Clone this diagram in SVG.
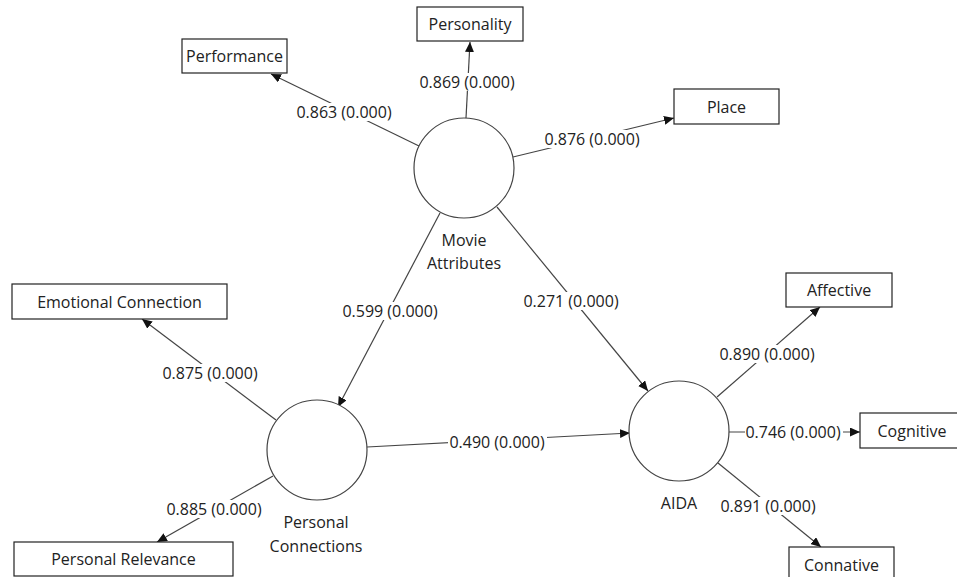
<svg xmlns="http://www.w3.org/2000/svg" width="957" height="577" viewBox="0 0 957 577">
<defs>
<style>
text{font-family:"Open Sans","Noto Sans","Liberation Sans",sans-serif;font-size:16px;fill:#222;text-anchor:middle;dominant-baseline:central}
.box{fill:#fff;stroke:#222;stroke-width:1.2}
.lv{fill:#fff;stroke:#444;stroke-width:1.2}
.edge{stroke:#444;stroke-width:1.2;fill:none;marker-end:url(#ah)}
.lbg{fill:#fff}
</style>
<marker id="ah" markerUnits="userSpaceOnUse" markerWidth="10" markerHeight="9" refX="10" refY="4.5" orient="auto">
<path d="M0,0 L10,4.5 L0,9 z" fill="#111"/>
</marker>
</defs>
<rect width="957" height="577" fill="#fff"/>
<g id="connectors">
<line class="edge" x1="419" y1="146" x2="271" y2="74"/>
<line class="edge" x1="466" y1="118" x2="470" y2="42"/>
<line class="edge" x1="513" y1="157" x2="674" y2="118"/>
<line class="edge" x1="276" y1="420" x2="142" y2="319"/>
<line class="edge" x1="273" y1="476" x2="157" y2="542"/>
<line class="edge" x1="440" y1="213" x2="338" y2="407"/>
<line class="edge" x1="497" y1="207" x2="648" y2="391"/>
<line class="edge" x1="367" y1="447" x2="630" y2="433"/>
<line class="edge" x1="717" y1="397" x2="820" y2="307"/>
<line class="edge" x1="729" y1="432" x2="860" y2="432"/>
<line class="edge" x1="718" y1="463" x2="821" y2="547"/>
<g id="labels">
<rect class="lbg" x="294" y="103" width="101" height="18"/><text x="344" y="112">0.863 (0.000)</text>
<rect class="lbg" x="417" y="73" width="101" height="18"/><text x="467" y="82">0.869 (0.000)</text>
<rect class="lbg" x="542" y="130" width="101" height="18"/><text x="592" y="139">0.876 (0.000)</text>
<rect class="lbg" x="160" y="364" width="101" height="18"/><text x="210" y="373">0.875 (0.000)</text>
<rect class="lbg" x="164" y="500" width="101" height="18"/><text x="214" y="509">0.885 (0.000)</text>
<rect class="lbg" x="340" y="302" width="101" height="18"/><text x="390" y="311">0.599 (0.000)</text>
<rect class="lbg" x="521" y="292" width="101" height="18"/><text x="571" y="301">0.271 (0.000)</text>
<rect class="lbg" x="448" y="433" width="99" height="18"/><text x="497" y="442">0.490 (0.000)</text>
<rect class="lbg" x="717" y="345" width="101" height="18"/><text x="767" y="354">0.890 (0.000)</text>
<rect class="lbg" x="745" y="423" width="98" height="18"/><text x="793" y="432">0.746 (0.000)</text>
<rect class="lbg" x="718" y="497" width="101" height="18"/><text x="768" y="506">0.891 (0.000)</text>
</g>
</g>
<g id="movie-attributes">
<circle class="lv" cx="464" cy="168" r="50"/>
<text x="464" y="240">Movie</text>
<text x="464" y="263">Attributes</text>
</g>
<g id="personal-connections">
<circle class="lv" cx="317" cy="450" r="50"/>
<text x="316" y="522">Personal</text>
<text x="316" y="546">Connections</text>
</g>
<g id="aida">
<circle class="lv" cx="679" cy="431" r="50"/>
<text x="679" y="503">AIDA</text>
</g>
<g id="performance"><rect class="box" x="182" y="39" width="105" height="34"/><text x="234.5" y="56">Performance</text></g>
<g id="personality"><rect class="box" x="417" y="7" width="106" height="34"/><text x="470" y="24">Personality</text></g>
<g id="place"><rect class="box" x="674" y="89" width="105" height="35"/><text x="726.5" y="107">Place</text></g>
<g id="emotional-connection"><rect class="box" x="12" y="284" width="215" height="35"/><text x="119.5" y="302">Emotional Connection</text></g>
<g id="personal-relevance"><rect class="box" x="14" y="542" width="219" height="34"/><text x="123.5" y="559">Personal Relevance</text></g>
<g id="affective"><rect class="box" x="786" y="273" width="106" height="34"/><text x="839" y="290">Affective</text></g>
<g id="cognitive"><rect class="box" x="860" y="413" width="106" height="35"/><text x="912" y="431">Cognitive</text></g>
<g id="connative"><rect class="box" x="789" y="547" width="105" height="34"/><text x="841.5" y="565">Connative</text></g>
</svg>
